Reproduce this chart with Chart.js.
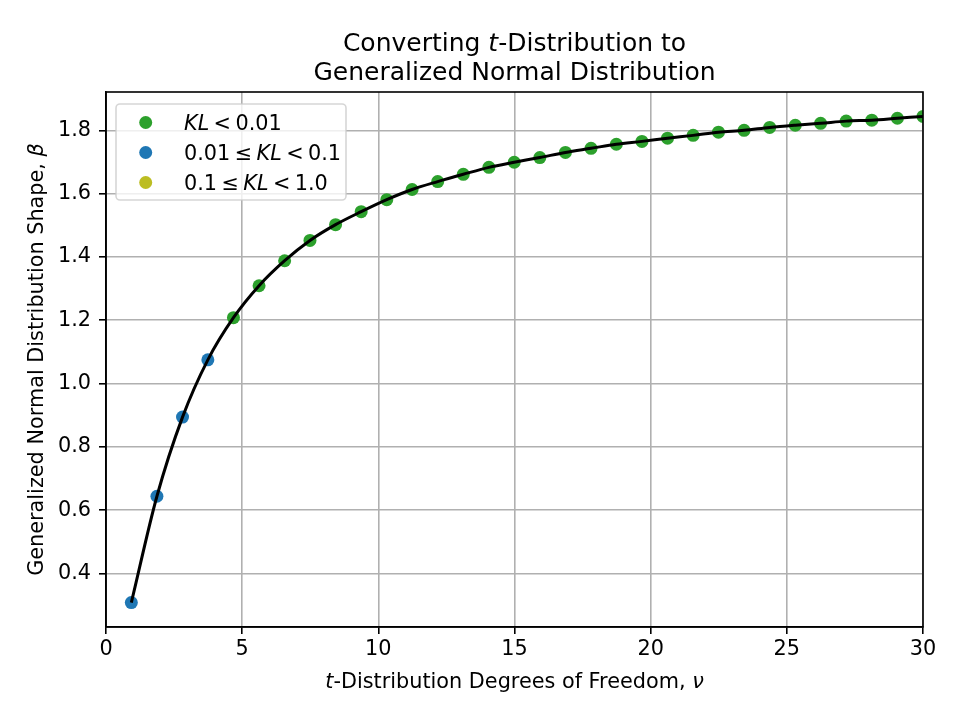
<!DOCTYPE html>
<html>
<head>
<meta charset="utf-8">
<script src="https://cdn.jsdelivr.net/npm/chart.js@4/dist/chart.umd.min.js"></script>
<style>
  html, body { margin: 0; padding: 0; background: #fff; }
  #wrap { width: 960px; height: 720px; }
</style>
</head>
<body>
<div id="wrap"><canvas id="tdistChart" width="960" height="720"></canvas></div>
<script>
// Degrees of freedom (x) and fitted shape beta (y)
const nuValues = [0.93, 1.87, 2.81, 3.74, 4.68, 5.62, 6.56, 7.49, 8.43, 9.37,
    10.31, 11.24, 12.18, 13.12, 14.06, 14.99, 15.93, 16.87, 17.81, 18.74,
    19.68, 20.62, 21.56, 22.49, 23.43, 24.37, 25.31, 26.24, 27.18, 28.12,
    29.06, 30.0];
const betaValues = [0.308, 0.644, 0.894, 1.075, 1.208, 1.309, 1.388, 1.452, 1.502, 1.543,
    1.581, 1.613, 1.638, 1.661, 1.683, 1.699, 1.714, 1.730, 1.743, 1.756,
    1.765, 1.775, 1.784, 1.794, 1.800, 1.809, 1.816, 1.822, 1.829, 1.832,
    1.838, 1.844];
// KL bucket of each point: 0 -> KL < 0.01, 1 -> 0.01 <= KL < 0.1, 2 -> 0.1 <= KL < 1.0
const klBucket = [1, 1, 1, 1, 0, 0, 0, 0, 0, 0,
    0, 0, 0, 0, 0, 0, 0, 0, 0, 0,
    0, 0, 0, 0, 0, 0, 0, 0, 0, 0,
    0, 0];

const xTicks = [0, 5, 10, 15, 20, 25, 30];
const yTicks = [0.4, 0.6, 0.8, 1.0, 1.2, 1.4, 1.6, 1.8];
const xRange = [0, 30];
const yRange = [0.231, 1.921];

const bucketColors = ['#2ca02c', '#1f77b4', '#bcbd22'];
// mathtext-style labels: g = small gap around relation symbols
const bucketLabels = [
    [{ t: 'KL', i: true }, { g: 4.4 }, { t: '<' }, { g: 4.4 }, { t: '0.01' }],
    [{ t: '0.01' }, { g: 4.4 }, { t: '≤' }, { g: 4.4 }, { t: 'KL', i: true }, { g: 4.4 }, { t: '<' }, { g: 4.4 }, { t: '0.1' }],
    [{ t: '0.1' }, { g: 4.4 }, { t: '≤' }, { g: 4.4 }, { t: 'KL', i: true }, { g: 4.4 }, { t: '<' }, { g: 4.4 }, { t: '1.0' }]
];

const FONT = '"DejaVu Sans", "Liberation Sans", sans-serif';

function bucketPoints(b) {
    const pts = [];
    nuValues.forEach((x, i) => {
        if (klBucket[i] === b) pts.push({ x: x, y: betaValues[i] });
    });
    return pts;
}

// Draw a run of text where some pieces are italic
function drawRich(ctx, parts, x, y, size, align) {
    let total = 0;
    parts.forEach(p => {
        if (p.g !== undefined) { p.w = p.g; total += p.w; return; }
        ctx.font = (p.i ? 'italic ' : '') + size + 'px ' + FONT;
        p.w = ctx.measureText(p.t).width;
        total += p.w;
    });
    let cx = x;
    if (align === 'center') cx = x - total / 2;
    ctx.textAlign = 'left';
    ctx.textBaseline = 'alphabetic';
    parts.forEach(p => {
        if (p.t !== undefined) {
            ctx.font = (p.i ? 'italic ' : '') + size + 'px ' + FONT;
            ctx.fillText(p.t, cx, y);
        }
        cx += p.w;
    });
}

const decorPlugin = {
    id: 'decor',
    afterDatasetsDraw(chart) {
        const ctx = chart.ctx;
        const a = chart.chartArea;
        ctx.save();
        ctx.strokeStyle = '#000';
        ctx.lineWidth = 1.6;
        ctx.strokeRect(a.left, a.top, a.right - a.left, a.bottom - a.top);
        ctx.restore();
    },
    afterDraw(chart) {
        const ctx = chart.ctx;
        const a = chart.chartArea;
        const mid = (a.left + a.right) / 2;
        ctx.save();
        ctx.fillStyle = '#000';

        // Title
        drawRich(ctx, [{ t: 'Converting ' }, { t: 't', i: true }, { t: '-Distribution to' }], mid, 51, 25, 'center');
        drawRich(ctx, [{ t: 'Generalized Normal Distribution' }], mid, 80, 25, 'center');

        // Axis titles
        drawRich(ctx, [{ t: 't', i: true }, { t: '-Distribution Degrees of Freedom, ' }, { t: 'ν', i: true }], mid, 688, 20.8, 'center');
        ctx.save();
        ctx.translate(43, (a.top + a.bottom) / 2);
        ctx.rotate(-Math.PI / 2);
        drawRich(ctx, [{ t: 'Generalized Normal Distribution Shape, ' }, { t: 'β', i: true }], 0, 0, 20.8, 'center');
        ctx.restore();

        // Legend
        const lx = 116, ly = 104, lw = 230, lh = 96;
        ctx.beginPath();
        ctx.roundRect(lx, ly, lw, lh, 4);
        ctx.fillStyle = 'rgba(255,255,255,0.8)';
        ctx.fill();
        ctx.strokeStyle = 'rgba(204,204,204,0.8)';
        ctx.lineWidth = 1.6;
        ctx.stroke();
        bucketLabels.forEach((label, k) => {
            const ry = 122.5 + k * 30;
            ctx.beginPath();
            ctx.arc(145.7, ry, 6.5, 0, Math.PI * 2);
            ctx.fillStyle = bucketColors[k];
            ctx.fill();
            ctx.fillStyle = '#000';
            drawRich(ctx, label, 184, ry + 7, 20.8, 'left');
        });
        ctx.restore();
    }
};

function setTicks(values) {
    return function(scale) {
        scale.ticks = values.map(v => ({ value: v }));
    };
}

document.addEventListener('DOMContentLoaded', function() {
    const ctx = document.getElementById('tdistChart').getContext('2d');

    const datasets = [
        {
            type: 'line',
            label: 'fit',
            data: nuValues.map((x, i) => ({ x: x, y: betaValues[i] })),
            borderColor: '#000',
            borderWidth: 3,
            pointRadius: 0,
            fill: false,
            cubicInterpolationMode: 'monotone',
            order: 0
        }
    ];
    bucketColors.forEach((c, b) => {
        datasets.push({
            type: 'scatter',
            label: 'bucket' + b,
            data: bucketPoints(b),
            backgroundColor: c,
            borderWidth: 0,
            pointRadius: 6.5,
            order: 1
        });
    });

    new Chart(ctx, {
        type: 'scatter',
        data: { datasets: datasets },
        options: {
            responsive: false,
            animation: false,
            devicePixelRatio: 1,
            layout: { padding: { left: 0, top: 92, right: 37, bottom: 0 } },
            plugins: {
                legend: { display: false },
                title: { display: false },
                tooltip: { enabled: false }
            },
            scales: {
                x: {
                    type: 'linear',
                    min: xRange[0],
                    max: xRange[1],
                    afterBuildTicks: setTicks(xTicks),
                    afterFit: function(s) { s.height = 93; },
                    grid: { color: '#b0b0b0', lineWidth: 1.6, tickColor: '#000', tickWidth: 1.6, tickLength: 7 },
                    border: { color: '#000', width: 1.6 },
                    ticks: {
                        color: '#000',
                        padding: 3,
                        maxRotation: 0,
                        font: { family: FONT, size: 20.8 },
                        callback: v => String(v)
                    }
                },
                y: {
                    type: 'linear',
                    min: yRange[0],
                    max: yRange[1],
                    afterBuildTicks: setTicks(yTicks),
                    afterFit: function(s) { s.width = 106; },
                    grid: { color: '#b0b0b0', lineWidth: 1.6, tickColor: '#000', tickWidth: 1.6, tickLength: 7 },
                    border: { color: '#000', width: 1.6 },
                    ticks: {
                        color: '#000',
                        padding: 8,
                        font: { family: FONT, size: 20.8 },
                        callback: v => v.toFixed(1)
                    }
                }
            }
        },
        plugins: [decorPlugin]
    });
});
</script>
</body>
</html>
